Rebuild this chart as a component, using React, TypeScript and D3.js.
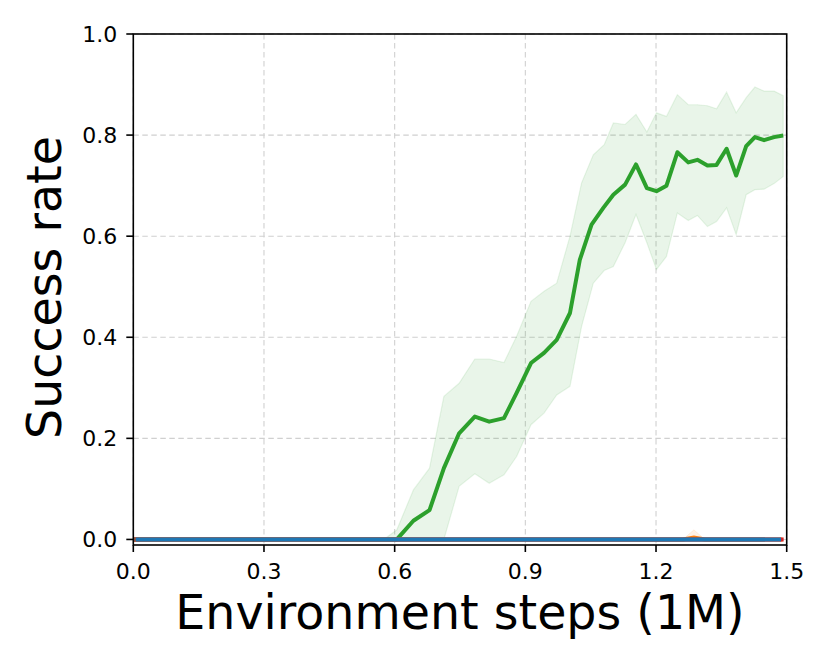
import React from "react";
import * as d3 from "d3";

// ---- data ----
const xTicks = [0.0, 0.3, 0.6, 0.9, 1.2, 1.5];
const yTicks = [0.0, 0.2, 0.4, 0.6, 0.8, 1.0];

// green method: mean curve vertices
const greenX = [0, 0.605, 0.643, 0.68, 0.713, 0.748, 0.784, 0.817, 0.851, 0.88, 0.913, 0.943, 0.972, 1.0025, 1.025, 1.052, 1.079, 1.102, 1.129, 1.154, 1.179, 1.201, 1.224, 1.249, 1.274, 1.295, 1.318, 1.339, 1.362, 1.384, 1.407, 1.427, 1.448, 1.471, 1.492];
const greenMean = [0, 0, 0.037, 0.058, 0.141, 0.21, 0.243, 0.233, 0.24, 0.29, 0.349, 0.369, 0.395, 0.448, 0.553, 0.623, 0.656, 0.682, 0.702, 0.742, 0.695, 0.689, 0.7, 0.766, 0.746, 0.751, 0.74, 0.741, 0.773, 0.72, 0.778, 0.796, 0.79, 0.796, 0.799];

// green band
const bandX = [0.575, 0.605, 0.643, 0.68, 0.713, 0.748, 0.784, 0.817, 0.851, 0.88, 0.913, 0.943, 0.972, 1.0025, 1.029, 1.056, 1.081, 1.102, 1.129, 1.154, 1.179, 1.201, 1.224, 1.249, 1.274, 1.295, 1.318, 1.339, 1.362, 1.384, 1.407, 1.427, 1.448, 1.471, 1.492];
const bandUpper = [0, 0.019, 0.098, 0.141, 0.283, 0.309, 0.357, 0.357, 0.35, 0.402, 0.471, 0.491, 0.507, 0.6, 0.705, 0.761, 0.781, 0.824, 0.821, 0.841, 0.806, 0.844, 0.837, 0.88, 0.86, 0.86, 0.858, 0.852, 0.885, 0.844, 0.874, 0.895, 0.887, 0.887, 0.878];
const bandLower = [0, 0, 0, 0, 0, 0.105, 0.13, 0.111, 0.128, 0.164, 0.227, 0.25, 0.286, 0.303, 0.421, 0.507, 0.532, 0.54, 0.587, 0.643, 0.587, 0.534, 0.56, 0.646, 0.631, 0.641, 0.619, 0.629, 0.656, 0.603, 0.682, 0.692, 0.693, 0.704, 0.718];

// orange method: zero except a tiny bump
const orangeX = [0, 1.262, 1.287, 1.312, 1.49];
const orangeMean = [0, 0, 0.004, 0, 0];
const orangeUpper = [0, 0, 0.019, 0, 0];

// flat methods
const redX = [0, 1.493];
const redY = [0, 0];
const brownX = [0, 1.45];
const brownY = [0, 0];
const blueX = [0.006, 1.487];
const blueY = [0, 0];

const xLabel = "Environment steps (1M)";
const yLabel = "Success rate";

const C = {
  blue: "#1f77b4",
  orange: "#ff7f0e",
  green: "#2ca02c",
  red: "#d62728",
  brown: "#8c564b",
};

export default function App() {
  const W = 830, H = 664;
  const L = 133.3, R = 786.7, T = 34, B = 545;
  const x = d3.scaleLinear().domain([0, 1.5]).range([L, R]);
  const y = d3.scaleLinear().domain([-0.011, 1.0]).range([B, T]);

  const line = (xs: number[], ys: number[]) =>
    d3.line<number>().x((_, i) => x(xs[i])).y((d) => y(d))(ys) || "";
  const area = (xs: number[], lo: number[], hi: number[]) =>
    d3.area<number>().x((_, i) => x(xs[i])).y0((_, i) => y(lo[i])).y1((d) => y(d))(hi) || "";

  const font = "DejaVu Sans, sans-serif";
  const orangeLower = orangeUpper.map(() => 0);

  return (
    <svg width={W} height={H} style={{ position: "absolute", left: 0, top: 0, background: "#fff" }} fontFamily={font}>
      <rect width={W} height={H} fill="#fff" />
      {/* grid */}
      {xTicks.map((t) => (
        <line key={"gx" + t} x1={x(t)} x2={x(t)} y1={T} y2={B} stroke="#d0d0d0" strokeWidth={1.1} strokeDasharray="5.5,3.5" />
      ))}
      {yTicks.map((t) => (
        <line key={"gy" + t} x1={L} x2={R} y1={y(t)} y2={y(t)} stroke="#d0d0d0" strokeWidth={1.1} strokeDasharray="5.5,3.5" />
      ))}
      {/* green */}
      <path d={area(bandX, bandLower, bandUpper)} fill={C.green} fillOpacity={0.1} stroke={C.green} strokeOpacity={0.1} strokeWidth={1.2} />
      <path d={line(greenX, greenMean)} fill="none" stroke={C.green} strokeWidth={4} strokeLinejoin="round" />
      {/* orange */}
      <path d={area(orangeX, orangeLower, orangeUpper)} fill={C.orange} fillOpacity={0.1} stroke={C.orange} strokeOpacity={0.1} strokeWidth={1} />
      <path d={line(orangeX, orangeMean)} fill="none" stroke={C.orange} strokeWidth={4} />
      {/* red, brown */}
      <path d={line(redX, redY)} fill="none" stroke={C.red} strokeWidth={4} />
      <path d={line(brownX, brownY)} fill="none" stroke={C.brown} strokeWidth={4} />
      {/* blue */}
      <path d={line(blueX, blueY)} fill="none" stroke={C.blue} strokeWidth={4} />

      {/* spines */}
      <rect x={L} y={T} width={R - L} height={B - T} fill="none" stroke="#000" strokeWidth={1.6} />

      {/* x ticks */}
      {xTicks.map((t) => (
        <g key={"xt" + t}>
          <line x1={x(t)} x2={x(t)} y1={B} y2={B + 7} stroke="#000" strokeWidth={1.6} />
          <text x={x(t)} y={578.5} textAnchor="middle" fontSize={22} fill="#000">{t.toFixed(1)}</text>
        </g>
      ))}
      {/* y ticks */}
      {yTicks.map((t) => (
        <g key={"yt" + t}>
          <line x1={L - 7} x2={L} y1={y(t)} y2={y(t)} stroke="#000" strokeWidth={1.6} />
          <text x={L - 16} y={y(t)} dy="0.36em" textAnchor="end" fontSize={22} fill="#000">{t.toFixed(1)}</text>
        </g>
      ))}

      <text x={(L + R) / 2} y={629} textAnchor="middle" fontSize={47.5} fill="#000">{xLabel}</text>
      <text transform={`translate(61,${(T + B) / 2 - 2}) rotate(-90)`} textAnchor="middle" fontSize={47.5} fill="#000">{yLabel}</text>
    </svg>
  );
}
